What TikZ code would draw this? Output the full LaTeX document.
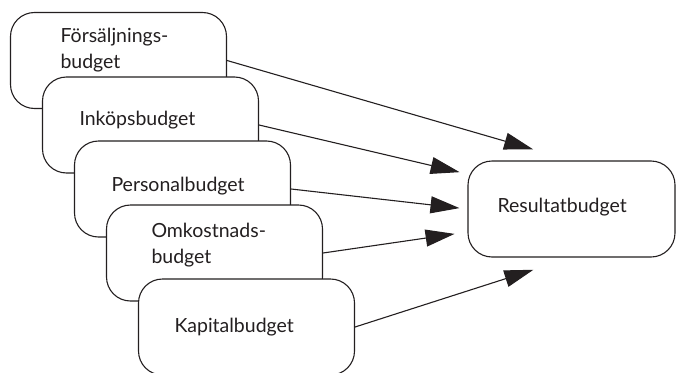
\documentclass[tikz,border=0pt]{standalone}
\usepackage{fontspec}
\setmainfont{Lato}
\usepackage{tikz}
\usetikzlibrary{arrows.meta}
\definecolor{ink}{HTML}{231F20}
\hyphenpenalty=10000
\tikzset{
  budget/.style={draw=ink, text=ink, fill=white, line width=1.1pt, rounded corners=24pt,
    minimum width=216pt, minimum height=96pt, inner sep=0pt, text width=142pt, align=left,
    font=\fontsize{19.5}{26}\selectfont},
  flow/.style={draw=ink, line width=1.1pt, -{Triangle[length=29pt,width=17pt]}},
}
\begin{document}
\begin{tikzpicture}[x=1pt,y=-1pt]
  \clip (0,0) rectangle (676,372);
  % stacked part budgets, each one covering the one before
  \node[budget, text width=116pt, text depth=50pt] (forsalj) at (118.5,60.5) {Försäljnings-\\budget};
  \node[budget, text depth=14pt] (inkop) at (150.5,125) {Inköpsbudget};
  \node[budget, text depth=9pt] (personal) at (182.5,189) {Personalbudget};
  \node[budget, text width=126pt, text depth=46pt] (omkost) at (214.5,253) {Omkostnads-\\budget};
  \node[budget, text width=144pt] (kapital) at (246.5,327) {Kapitalbudget};
  \node[budget, minimum width=207pt, text width=148pt, text depth=8pt] (res) at (571.5,209) {Resultatbudget};
  % everything ends up in the result budget
  \draw[flow, shorten >=40pt] (forsalj.east) -- (res.north);
  \draw[flow, shorten >=8pt] (inkop.east) -- ([yshift=35pt]res.west);
  \draw[flow, shorten >=8pt] (personal.east) -- (res.west);
  \draw[flow, shorten >=13pt] (omkost.east) -- ([yshift=-23pt]res.west);
  \draw[flow, shorten >=40pt] (kapital.east) -- (res.south);
\end{tikzpicture}
\end{document}
